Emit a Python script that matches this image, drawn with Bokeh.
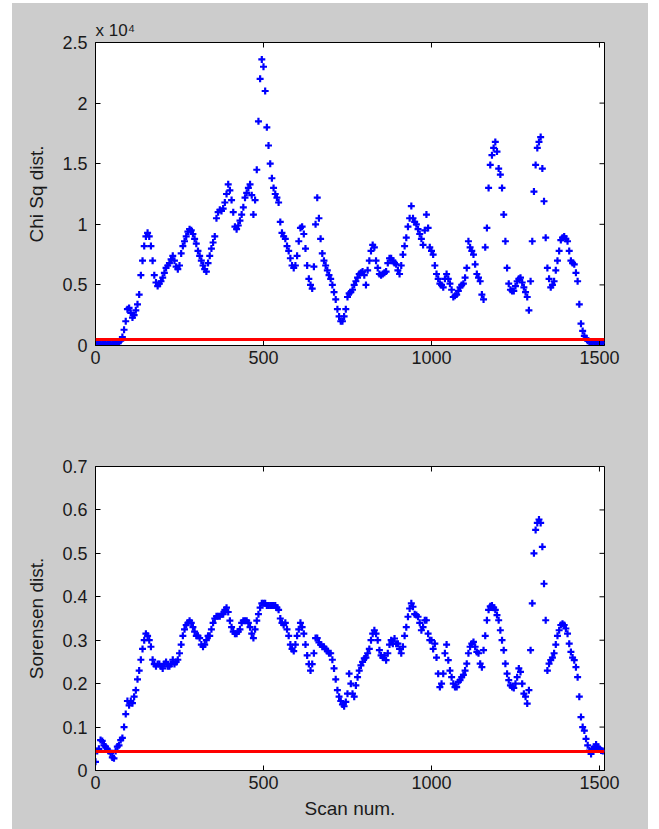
import math
from bokeh.plotting import figure
from bokeh.models import Span, FixedTicker, Range1d, ColumnDataSource
from bokeh.layouts import column
from bokeh.embed import file_html
from bokeh.resources import INLINE

# ---------------- data ----------------
scan = list(range(0, 1515, 5))

chi_sq_e4 = [
    0.02, 0.01, 0.02, 0.01, 0.01, 0.02, 0.01, 0.02, 0.01, 0.02,
    0.02, 0.01, 0.02, 0.02, 0.03, 0.04, 0.07, 0.13, 0.20, 0.30,
    0.31, 0.27, 0.23, 0.25, 0.29, 0.34, 0.42, 0.58, 0.70, 0.82,
    0.90, 0.93, 0.90, 0.82, 0.70, 0.58, 0.52, 0.49, 0.51, 0.53,
    0.56, 0.60, 0.64, 0.66, 0.68, 0.71, 0.74, 0.70, 0.65, 0.63,
    0.66, 0.76, 0.82, 0.86, 0.90, 0.94, 0.96, 0.95, 0.92, 0.88,
    0.84, 0.78, 0.74, 0.70, 0.66, 0.63, 0.61, 0.68, 0.74, 0.80,
    0.85, 0.90, 1.05, 1.10, 1.12, 1.11, 1.13, 1.18, 1.25, 1.33,
    1.28, 1.20, 1.10, 0.98, 0.96, 0.99, 1.03, 1.08, 1.14, 1.22,
    1.26, 1.30, 1.33, 1.24, 1.08, 1.20, 1.45, 1.85, 2.20, 2.36,
    2.30, 2.10, 1.80, 1.65, 1.50, 1.38, 1.30, 1.25, 1.22, 1.18,
    1.02, 0.93, 0.90, 0.88, 0.82, 0.78, 0.72, 0.66, 0.64, 0.66,
    0.74, 0.86, 0.97, 0.98, 0.92, 0.80, 0.66, 0.55, 0.50, 0.47,
    0.65, 1.00, 1.22, 1.05, 0.88, 0.76, 0.70, 0.66, 0.62, 0.58,
    0.55, 0.50, 0.44, 0.38, 0.30, 0.24, 0.20, 0.20, 0.24, 0.30,
    0.40, 0.43, 0.44, 0.46, 0.50, 0.53, 0.56, 0.59, 0.60, 0.61,
    0.58, 0.50, 0.62, 0.70, 0.78, 0.83, 0.81, 0.70, 0.64, 0.59,
    0.58, 0.59, 0.60, 0.61, 0.68, 0.72, 0.72, 0.70, 0.68, 0.67,
    0.62, 0.59, 0.66, 0.75, 0.82, 0.89, 0.98, 1.05, 1.15, 1.05,
    1.02, 1.00, 0.96, 0.92, 0.88, 0.83, 0.95, 1.08, 0.97, 0.81,
    0.78, 0.75, 0.66, 0.59, 0.55, 0.51, 0.50, 0.48, 0.55, 0.59,
    0.55, 0.51, 0.46, 0.40, 0.41, 0.42, 0.45, 0.48, 0.50, 0.51,
    0.56, 0.64, 0.86, 0.81, 0.78, 0.75, 0.67, 0.59, 0.56, 0.53,
    0.42, 0.38, 0.81, 0.97, 1.30, 1.49, 1.57, 1.63, 1.68, 1.60,
    1.46, 1.41, 1.30, 1.08, 0.86, 0.64, 0.51, 0.46, 0.45, 0.45,
    0.49, 0.53, 0.55, 0.56, 0.52, 0.48, 0.44, 0.40, 0.29, 0.53,
    0.86, 1.27, 1.49, 1.63, 1.68, 1.72, 1.46, 1.19, 0.89, 0.64,
    0.55, 0.48, 0.50, 0.53, 0.62, 0.70, 0.78, 0.87, 0.89, 0.90,
    0.88, 0.86, 0.78, 0.70, 0.68, 0.67, 0.60, 0.53, 0.34, 0.18,
    0.12, 0.08, 0.06, 0.04, 0.03, 0.03, 0.03, 0.02, 0.03, 0.02,
    0.02, 0.03, 0.02,
]

sorensen = [
    0.02, 0.045, 0.05, 0.07, 0.068, 0.058, 0.055, 0.05, 0.045, 0.04,
    0.03, 0.028, 0.045, 0.055, 0.058, 0.07, 0.075, 0.10, 0.13, 0.16,
    0.15, 0.16, 0.155, 0.17, 0.185, 0.21, 0.23, 0.255, 0.28, 0.30,
    0.315, 0.31, 0.30, 0.285, 0.255, 0.245, 0.24, 0.245, 0.245, 0.24,
    0.235, 0.245, 0.25, 0.24, 0.24, 0.245, 0.255, 0.245, 0.25, 0.255,
    0.27, 0.29, 0.31, 0.325, 0.335, 0.34, 0.345, 0.34, 0.33, 0.32,
    0.31, 0.31, 0.305, 0.29, 0.285, 0.29, 0.30, 0.31, 0.31, 0.325,
    0.34, 0.35, 0.355, 0.355, 0.355, 0.36, 0.36, 0.37, 0.375, 0.365,
    0.345, 0.33, 0.32, 0.315, 0.315, 0.32, 0.325, 0.34, 0.345, 0.345,
    0.345, 0.34, 0.33, 0.315, 0.305, 0.325, 0.345, 0.36, 0.375, 0.385,
    0.385, 0.385, 0.38, 0.38, 0.38, 0.38, 0.38, 0.38, 0.375, 0.37,
    0.35, 0.34, 0.335, 0.34, 0.325, 0.31, 0.29, 0.28, 0.275, 0.29,
    0.31, 0.325, 0.34, 0.33, 0.315, 0.29, 0.265, 0.245, 0.23, 0.245,
    0.27, 0.305, 0.305, 0.295, 0.29, 0.285, 0.285, 0.28, 0.275, 0.27,
    0.27, 0.255, 0.235, 0.21, 0.185, 0.17, 0.16, 0.152, 0.148, 0.158,
    0.177, 0.223, 0.20, 0.177, 0.17, 0.196, 0.215, 0.23, 0.242, 0.25,
    0.258, 0.26, 0.27, 0.28, 0.30, 0.315, 0.323, 0.315, 0.30, 0.277,
    0.265, 0.26, 0.265, 0.254, 0.27, 0.29, 0.30, 0.292, 0.304, 0.292,
    0.292, 0.28, 0.27, 0.285, 0.31, 0.33, 0.354, 0.373, 0.385, 0.377,
    0.36, 0.358, 0.354, 0.34, 0.323, 0.33, 0.346, 0.346, 0.315, 0.30,
    0.30, 0.28, 0.292, 0.26, 0.223, 0.192, 0.20, 0.223, 0.27, 0.29,
    0.254, 0.23, 0.215, 0.20, 0.192, 0.192, 0.204, 0.208, 0.215, 0.22,
    0.23, 0.246, 0.27, 0.285, 0.292, 0.296, 0.285, 0.273, 0.27, 0.246,
    0.238, 0.277, 0.31, 0.346, 0.37, 0.378, 0.38, 0.375, 0.37, 0.358,
    0.346, 0.323, 0.30, 0.277, 0.246, 0.223, 0.208, 0.196, 0.192, 0.19,
    0.20, 0.215, 0.235, 0.227, 0.20, 0.177, 0.17, 0.154, 0.185, 0.277,
    0.385, 0.50, 0.554, 0.57, 0.578, 0.57, 0.515, 0.43, 0.346, 0.23,
    0.246, 0.254, 0.26, 0.27, 0.29, 0.31, 0.323, 0.335, 0.338, 0.335,
    0.327, 0.315, 0.292, 0.273, 0.26, 0.254, 0.238, 0.215, 0.17, 0.123,
    0.10, 0.092, 0.073, 0.058, 0.046, 0.038, 0.05, 0.054, 0.06, 0.054,
    0.05, 0.046, 0.045,
]

chi_threshold_e4 = 0.05
sorensen_threshold = 0.044

x_ticks = [0, 500, 1000, 1500]
x_tick_labels = ["0", "500", "1000", "1500"]
chi_ticks = [0, 0.5, 1, 1.5, 2, 2.5]
chi_tick_labels = ["0", "0.5", "1", "1.5", "2", "2.5"]
sor_ticks = [0, 0.1, 0.2, 0.3, 0.4, 0.5, 0.6, 0.7]
sor_tick_labels = ["0", "0.1", "0.2", "0.3", "0.4", "0.5", "0.6", "0.7"]

# ---------------- styling ----------------
FONT = "Liberation Sans"
GRAY = "#cccccc"
TXT = "#1a1a1a"
X_MAX = 1515


def style_axis(ax, ticks, labels):
    ax.ticker = FixedTicker(ticks=ticks)
    ax.major_label_overrides = {t: l for t, l in zip(ticks, labels)}
    ax.axis_line_color = "black"
    ax.major_tick_line_color = "black"
    ax.major_tick_in = 5
    ax.major_tick_out = 0
    ax.minor_tick_line_color = None
    ax.major_label_text_font = FONT
    ax.major_label_text_font_size = "18px"
    ax.major_label_text_color = TXT
    ax.axis_label_text_font = FONT
    ax.axis_label_text_font_size = "19px"
    ax.axis_label_text_font_style = "normal"
    ax.axis_label_text_color = TXT


def make_panel(height, top, bottom, y_end, yticks, ylabels, ylab, xlab, title, y, thr):
    p = figure(width=636, height=height, output_backend="svg", toolbar_location=None,
               x_range=Range1d(0, X_MAX), y_range=Range1d(0, y_end),
               min_border_left=83, min_border_right=44,
               min_border_top=top, min_border_bottom=bottom,
               border_fill_color=GRAY, background_fill_color="white",
               outline_line_color="black", outline_line_width=1,
               title=title)
    p.grid.visible = False
    if title:
        p.title.align = "left"
        p.title.text_font = FONT
        p.title.text_font_size = "17px"
        p.title.text_font_style = "normal"
        p.title.text_color = TXT
        p.title.standoff = 5

    style_axis(p.xaxis[0], x_ticks, x_tick_labels)
    p.xaxis[0].major_label_standoff = 5
    style_axis(p.yaxis[0], yticks, ylabels)
    p.yaxis[0].major_label_standoff = 8
    p.yaxis[0].axis_label = ylab
    p.yaxis[0].axis_label_standoff = 12
    if xlab:
        p.xaxis[0].axis_label = xlab
        p.xaxis[0].axis_label_standoff = 6

    src = ColumnDataSource(dict(scan=scan, val=y))
    p.scatter("scan", "val", source=src, marker="cross", size=7,
              line_color="#0000ff", line_width=2.2)
    p.add_layout(Span(location=thr, dimension="width", line_color="#ff0000",
                      line_width=3))

    # inward ticks on the right and top edges of the box (MATLAB style)
    p.scatter([X_MAX] * len(yticks), yticks, marker="dash", size=10,
              line_color="black", line_width=1)
    p.scatter(x_ticks, [y_end] * len(x_ticks), marker="dash", size=10,
              angle=math.pi / 2, line_color="black", line_width=1)
    return p


p1 = make_panel(397, 39, 55, 2.5, chi_ticks, chi_tick_labels, "Chi Sq dist.", None,
                "x 10\u2074", chi_sq_e4, chi_threshold_e4)
p2 = make_panel(429, 66, 59, 0.7, sor_ticks, sor_tick_labels, "Sorensen dist.", "Scan num.",
                None, sorensen, sorensen_threshold)

layout = column(p1, p2, spacing=0, margin=(3, 0, 0, 12),
                styles={"background-color": GRAY})

open("out.html", "w").write(file_html(layout, INLINE))
